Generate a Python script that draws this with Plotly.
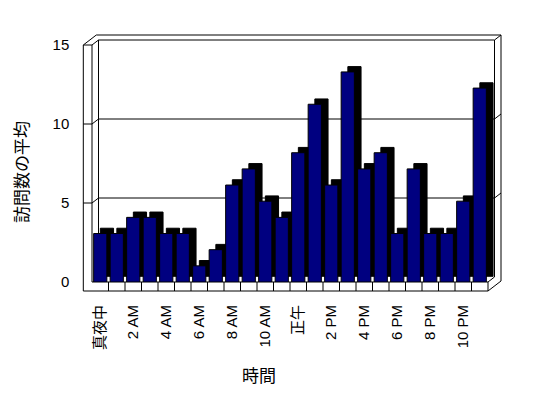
import plotly.graph_objects as go

# ---- data ----
hours = list(range(24))
visits = [3, 3, 4, 4, 3, 3, 1, 2, 6, 7, 5, 4, 8, 11, 6, 13, 7, 8, 3, 7, 3, 3, 5, 12]
tick_pos = [0, 2, 4, 6, 8, 10, 12, 14, 16, 18, 20, 22]
tick_text = ["真夜中", "2 AM", "4 AM", "6 AM", "8 AM", "10 AM", "正午",
             "2 PM", "4 PM", "6 PM", "8 PM", "10 PM"]
y_ticks = [0, 5, 10, 15]
y_title = "訪問数の平均"
x_title = "時間"

# page body has an 8px default margin: figure is sized/offset to compensate
OFF = 8
W, H = 548 - 2 * OFF, 398 - 2 * OFF
FONT = "Liberation Sans, Noto Sans CJK JP, sans-serif"


def px(x):
    return (x - OFF) / W


def py(y):
    return 1 - (y - OFF) / H


# frame geometry (window pixels)
FX0, FX1 = 92.0, 488.0       # floor front face x
FY0, FY15 = 282.0, 45.0      # wall value scale on front face
FLOOR_B = 291.0
WALL_L = 83.3
DX, DY = 6.5, -5.0           # wall depth vector
BAR_TOP15 = 39.6             # bar scale: value 15
BDX, BDY = 6.7, -5.3         # bar depth vector


def wy(v):
    return FY0 - (FY0 - FY15) * v / 15.0


fig = go.Figure()

fig.add_trace(go.Scatter(x=[0], y=[0], mode="markers", marker=dict(opacity=0),
                         xaxis="x", yaxis="y", showlegend=False, hoverinfo="skip"))
fig.add_trace(go.Bar(x=hours, y=visits, xaxis="x2", yaxis="y2", width=0.8,
                     marker=dict(color="black", line=dict(color="black", width=1)),
                     showlegend=False, hoverinfo="skip"))
fig.add_trace(go.Bar(x=hours, y=visits, xaxis="x3", yaxis="y3", width=0.8,
                     marker=dict(color="#000080", line=dict(color="black", width=1)),
                     showlegend=False))

segs = []
segs += [((WALL_L, wy(15)), (WALL_L, FLOOR_B)),
         ((FX0, wy(15)), (FX0, FY0)),
         ((WALL_L, wy(15)), (FX0, wy(15))),
         ((WALL_L, wy(15)), (WALL_L + 2 * DX, wy(15) + 2 * DY)),
         ((FX0, wy(15)), (FX0 + DX, wy(15) + DY))]
segs += [((WALL_L + 2 * DX, wy(15) + 2 * DY), (FX1 + 2 * DX, wy(15) + 2 * DY)),
         ((FX0 + DX, wy(15) + DY), (FX1 + DX, wy(15) + DY)),
         ((FX1 + DX, wy(15) + DY), (FX1 + 2 * DX, wy(15) + 2 * DY)),
         ((FX0 + DX, wy(15) + DY), (FX0 + DX, FY0 + DY)),
         ((FX1 + DX, wy(15) + DY), (FX1 + DX, FY0 + DY)),
         ((FX1 + 2 * DX, wy(15) + 2 * DY), (FX1 + 2 * DX, FLOOR_B + 2 * DY))]
for v in y_ticks[1:-1]:
    y = wy(v)
    segs += [((WALL_L, y), (FX0, y)),
             ((FX0, y), (FX0 + DX, y + DY)),
             ((FX0 + DX, y + DY), (FX1 + DX, y + DY)),
             ((FX1 + DX, y + DY), (FX1 + 2 * DX, y + 2 * DY))]
segs += [((FX0, FY0), (FX1, FY0)),
         ((WALL_L, FLOOR_B), (FX1, FLOOR_B)),
         ((FX1, FY0), (FX1, FLOOR_B)),
         ((FX1, FY0), (FX1 + DX, FY0 + DY)),
         ((FX1, FLOOR_B), (FX1 + 2 * DX, FLOOR_B + 2 * DY))]
step = (FX1 - FX0) / len(hours)
for k in range(1, len(hours)):
    x = FX0 + k * step
    segs.append(((x, FY0), (x, FLOOR_B)))

shapes = [dict(type="line", xref="paper", yref="paper",
               x0=px(a[0]), y0=py(a[1]), x1=px(b[0]), y1=py(b[1]),
               line=dict(color="black", width=1), layer="below")
          for a, b in segs]

fig.update_layout(
    template="none",
    width=W, height=H,
    margin=dict(l=0, r=0, t=0, b=0, pad=0),
    paper_bgcolor="white", plot_bgcolor="rgba(0,0,0,0)",
    font=dict(family=FONT, size=14, color="black"),
    showlegend=False,
    shapes=shapes,
    xaxis=dict(domain=[px(WALL_L), px(FX0)], range=[0, 1], visible=False,
               anchor="y", automargin=False),
    yaxis=dict(domain=[py(FY0), py(FY15)], range=[0, 15], tickvals=y_ticks,
               ticks="outside", ticklen=10, tickcolor="rgba(0,0,0,0)",
               showgrid=False, zeroline=False, showline=False, anchor="x",
               automargin=False, tickfont=dict(size=15, color="black")),
    xaxis2=dict(domain=[px(FX0 + BDX), px(FX1 + BDX)], range=[-0.5, 23.5],
                visible=False, anchor="y2", automargin=False),
    yaxis2=dict(domain=[py(FY0 + BDY), py(BAR_TOP15 + BDY)], range=[0, 15],
                visible=False, anchor="x2", automargin=False),
    xaxis3=dict(domain=[px(FX0), px(FX1)], range=[-0.5, 23.5], tickvals=tick_pos,
                ticktext=tick_text, tickangle=-90,
                ticks="outside", ticklen=16,
                tickcolor="rgba(0,0,0,0)", showgrid=False, zeroline=False,
                showline=False, anchor="y3", automargin=False,
                tickfont=dict(size=15, color="black")),
    yaxis3=dict(domain=[py(FY0), py(BAR_TOP15)], range=[0, 15], visible=False,
                anchor="x3", automargin=False),
    annotations=[
        dict(text=y_title, xref="paper", yref="paper", x=px(22), y=py(172),
             xanchor="center", yanchor="middle",
             showarrow=False, textangle=-90, font=dict(size=17, color="black")),
        dict(text=x_title, xref="paper", yref="paper", x=px(259), y=py(376),
             xanchor="center", yanchor="middle",
             showarrow=False, font=dict(size=17, color="black")),
    ],
)

fig.write_html("out.html")
